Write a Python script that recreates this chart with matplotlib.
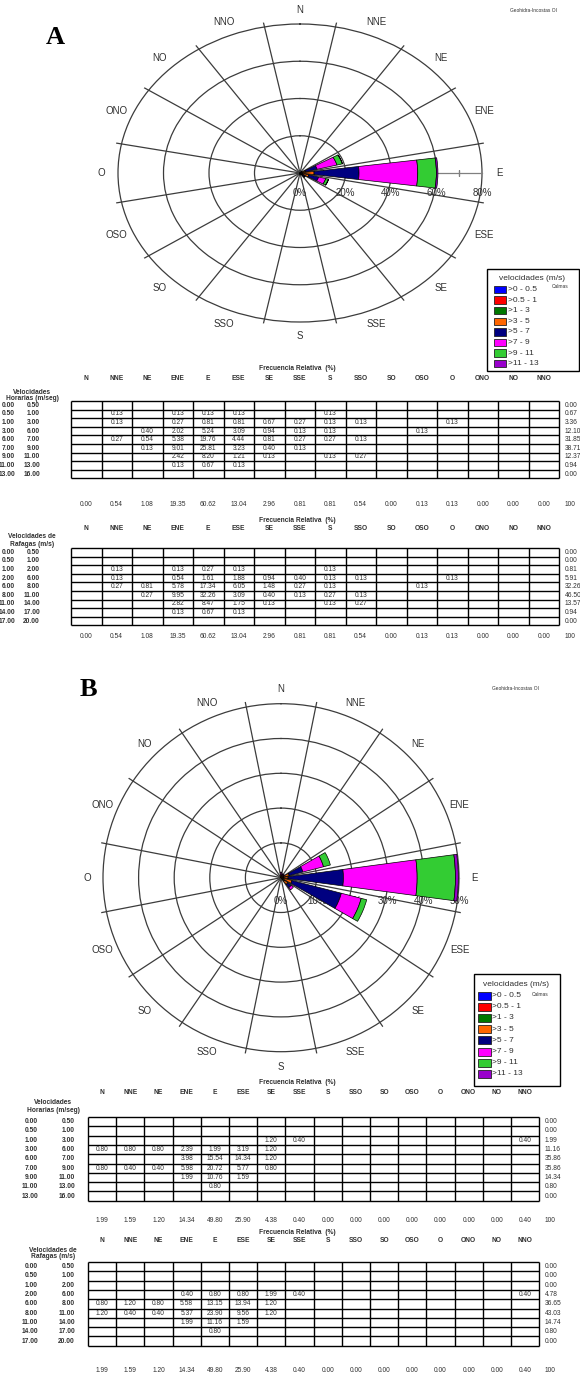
import numpy as np
import matplotlib
matplotlib.use("Agg")
import matplotlib.pyplot as plt
from matplotlib.patches import Rectangle

plt.rcParams["font.family"] = ["Liberation Sans", "DejaVu Sans"]

# ---- data ----
directions = ["N", "NNE", "NE", "ENE", "E", "ESE", "SE", "SSE",
              "S", "SSO", "SO", "OSO", "O", "ONO", "NO", "NNO"]
speed_labels = [">0 - 0.5", ">0.5 - 1", ">1 - 3", ">3 - 5",
                ">5 - 7", ">7 - 9", ">9 - 11", ">11 - 13"]
speed_colors = ["#0000ff", "#ff0000", "#007800", "#ff6600",
                "#000080", "#ff00ff", "#33cc33", "#9900cc"]

bins_horarias = [("0.00", "0.50"), ("0.50", "1.00"), ("1.00", "3.00"), ("3.00", "6.00"),
                 ("6.00", "7.00"), ("7.00", "9.00"), ("9.00", "11.00"), ("11.00", "13.00"),
                 ("13.00", "16.00")]
bins_rafagas = [("0.00", "0.50"), ("0.50", "1.00"), ("1.00", "2.00"), ("2.00", "6.00"),
                ("6.00", "8.00"), ("8.00", "11.00"), ("11.00", "14.00"), ("14.00", "17.00"),
                ("17.00", "20.00")]

# A - hourly speeds, % per direction (0 = empty cell)
a_horarias = [
    [0, 0, 0, 0, 0, 0, 0, 0, 0, 0, 0, 0, 0, 0, 0, 0],
    [0, .13, 0, .13, .13, .13, 0, 0, .13, 0, 0, 0, 0, 0, 0, 0],
    [0, .13, 0, .27, .81, .81, .67, .27, .13, .13, 0, 0, .13, 0, 0, 0],
    [0, 0, .40, 2.02, 5.24, 3.09, .94, .13, .13, 0, 0, .13, 0, 0, 0, 0],
    [0, .27, .54, 5.38, 19.76, 4.44, .81, .27, .27, .13, 0, 0, 0, 0, 0, 0],
    [0, 0, .13, 9.01, 25.81, 3.23, .40, .13, 0, 0, 0, 0, 0, 0, 0, 0],
    [0, 0, 0, 2.42, 8.20, 1.21, .13, 0, .13, .27, 0, 0, 0, 0, 0, 0],
    [0, 0, 0, .13, .67, .13, 0, 0, 0, 0, 0, 0, 0, 0, 0, 0],
    [0, 0, 0, 0, 0, 0, 0, 0, 0, 0, 0, 0, 0, 0, 0, 0],
]
a_horarias_row_tot = [0.00, 0.67, 3.36, 12.10, 31.85, 38.71, 12.37, 0.94, 0.00]

a_rafagas = [
    [0, 0, 0, 0, 0, 0, 0, 0, 0, 0, 0, 0, 0, 0, 0, 0],
    [0, 0, 0, 0, 0, 0, 0, 0, 0, 0, 0, 0, 0, 0, 0, 0],
    [0, .13, 0, .13, .27, .13, 0, 0, .13, 0, 0, 0, 0, 0, 0, 0],
    [0, .13, 0, .54, 1.61, 1.88, .94, .40, .13, .13, 0, 0, .13, 0, 0, 0],
    [0, .27, .81, 5.78, 17.34, 6.05, 1.48, .27, .13, 0, 0, .13, 0, 0, 0, 0],
    [0, 0, .27, 9.95, 32.26, 3.09, .40, .13, .27, .13, 0, 0, 0, 0, 0, 0],
    [0, 0, 0, 2.82, 8.47, 1.75, .13, 0, .13, .27, 0, 0, 0, 0, 0, 0],
    [0, 0, 0, .13, .67, .13, 0, 0, 0, 0, 0, 0, 0, 0, 0, 0],
    [0, 0, 0, 0, 0, 0, 0, 0, 0, 0, 0, 0, 0, 0, 0, 0],
]
a_rafagas_row_tot = [0.00, 0.00, 0.81, 5.91, 32.26, 46.50, 13.57, 0.94, 0.00]
a_dir_tot = [0.00, 0.54, 1.08, 19.35, 60.62, 13.04, 2.96, 0.81,
             0.81, 0.54, 0.00, 0.13, 0.13, 0.00, 0.00, 0.00]

# B
b_horarias = [
    [0, 0, 0, 0, 0, 0, 0, 0, 0, 0, 0, 0, 0, 0, 0, 0],
    [0, 0, 0, 0, 0, 0, 0, 0, 0, 0, 0, 0, 0, 0, 0, 0],
    [0, 0, 0, 0, 0, 0, 1.20, .40, 0, 0, 0, 0, 0, 0, 0, .40],
    [.80, .80, .80, 2.39, 1.99, 3.19, 1.20, 0, 0, 0, 0, 0, 0, 0, 0, 0],
    [0, 0, 0, 3.98, 15.54, 14.34, 1.20, 0, 0, 0, 0, 0, 0, 0, 0, 0],
    [.80, .40, .40, 5.98, 20.72, 5.77, .80, 0, 0, 0, 0, 0, 0, 0, 0, 0],
    [0, 0, 0, 1.99, 10.76, 1.59, 0, 0, 0, 0, 0, 0, 0, 0, 0, 0],
    [0, 0, 0, 0, .80, 0, 0, 0, 0, 0, 0, 0, 0, 0, 0, 0],
    [0, 0, 0, 0, 0, 0, 0, 0, 0, 0, 0, 0, 0, 0, 0, 0],
]
b_horarias_row_tot = [0.00, 0.00, 1.99, 11.16, 35.86, 35.86, 14.34, 0.80, 0.00]

b_rafagas = [
    [0, 0, 0, 0, 0, 0, 0, 0, 0, 0, 0, 0, 0, 0, 0, 0],
    [0, 0, 0, 0, 0, 0, 0, 0, 0, 0, 0, 0, 0, 0, 0, 0],
    [0, 0, 0, 0, 0, 0, 0, 0, 0, 0, 0, 0, 0, 0, 0, 0],
    [0, 0, 0, .40, .80, .80, 1.99, .40, 0, 0, 0, 0, 0, 0, 0, .40],
    [.80, 1.20, .80, 5.58, 13.15, 13.94, 1.20, 0, 0, 0, 0, 0, 0, 0, 0, 0],
    [1.20, .40, .40, 5.37, 23.90, 9.56, 1.20, 0, 0, 0, 0, 0, 0, 0, 0, 0],
    [0, 0, 0, 1.99, 11.16, 1.59, 0, 0, 0, 0, 0, 0, 0, 0, 0, 0],
    [0, 0, 0, 0, .80, 0, 0, 0, 0, 0, 0, 0, 0, 0, 0, 0],
    [0, 0, 0, 0, 0, 0, 0, 0, 0, 0, 0, 0, 0, 0, 0, 0],
]
b_rafagas_row_tot = [0.00, 0.00, 0.00, 4.78, 36.65, 43.03, 14.74, 0.80, 0.00]
b_dir_tot = [1.99, 1.59, 1.20, 14.34, 49.80, 25.90, 4.38, 0.40,
             0.00, 0.00, 0.00, 0.00, 0.00, 0.00, 0.00, 0.40]

# ---- figure ----
W, H = 580, 1383
fig = plt.figure(figsize=(W / 100, H / 100), dpi=100)
page = fig.add_axes([0, 0, 1, 1])
page.set_xlim(0, W)
page.set_ylim(H, 0)
page.axis("off")

TXT = "#303030"


def rect_px(cx, cy, rx, ry):
    return [(cx - rx) / W, 1 - (cy + ry) / H, 2 * rx / W, 2 * ry / H]


def draw_rose(cx, cy, rx, ry, table, rmax, step, lab_r, rlab_dy, ticks):
    ext = 1.03
    ax = fig.add_axes(rect_px(cx, cy, rx * ext, ry * ext), projection="polar")
    ax.set_aspect("auto")
    ax.set_theta_zero_location("N")
    ax.set_theta_direction(-1)
    ax.patch.set_visible(False)
    ax.spines["polar"].set_visible(False)
    ax.set_xticks(np.deg2rad(np.arange(11.25, 360, 22.5)))
    ax.set_xticklabels([])
    ax.set_yticks(np.arange(step, rmax + 0.01, step))
    ax.set_yticklabels([])
    ax.grid(True, color="#3c3c3c", lw=0.9)
    ax.set_ylim(0, rmax * ext)

    # radial axis along E
    ax.plot([np.pi / 2, np.pi / 2], [0, rmax], color="#808080", lw=0.9, zorder=2)
    for t in ticks:
        ax.plot(np.pi / 2, t, marker="|", ms=4, color="#808080", zorder=2)
    for r in np.arange(0, rmax + 0.01, step):
        ax.annotate(f"{r:g}%", xy=(np.pi / 2, r), xytext=(0, -rlab_dy * 0.72),
                    textcoords="offset points", ha="center", va="center",
                    fontsize=7, color=TXT, zorder=2, annotation_clip=False)

    theta = np.deg2rad(np.arange(16) * 22.5)
    bottom = np.zeros(16)
    for vals, col in zip(table[:8], speed_colors):
        v = np.array(vals, dtype=float)
        m = v > 0
        if m.any():
            ax.bar(theta[m], v[m], width=np.deg2rad(15.5), bottom=bottom[m],
                   color=col, edgecolor="black", lw=0.5, zorder=3)
        bottom += v

    for th, name in zip(theta, directions):
        ax.text(th, lab_r, name, ha="center", va="center", fontsize=7,
                color=TXT, clip_on=False)
    return ax


def draw_legend(x0, y0, x1, y1, title_y, first_y, dy, sw_x, sw_w, sw_h, calmas_xy):
    page.add_patch(Rectangle((x0, y0), x1 - x0, y1 - y0, fill=False,
                             edgecolor="black", lw=1.0))
    page.text((x0 + x1) / 2 - 1, title_y, "velocidades (m/s)", ha="center",
              va="center", fontsize=6, color=TXT)
    page.text(calmas_xy[0], calmas_xy[1], "Calmas", ha="center", va="center",
              fontsize=3.5, color=TXT)
    for k, (lab, col) in enumerate(zip(speed_labels, speed_colors)):
        yy = first_y + k * dy
        page.add_patch(Rectangle((sw_x, yy - sw_h / 2), sw_w, sw_h, facecolor=col,
                                 edgecolor="#222222", lw=0.6))
        page.text(sw_x + sw_w + 1.5, yy, lab, ha="left", va="center",
                  fontsize=6, color=TXT)


def draw_table(values, bins, row_tot, dir_tot, vel_title, lay):
    x0, cw, top, rh = lay["x0"], lay["cw"], lay["top"], lay["rh"]
    nr = len(values)
    xs = x0 + cw * np.arange(17)
    ys = top + rh * np.arange(nr + 1)
    page.hlines(ys, xs[0], xs[-1], color="black", lw=1.0)
    page.vlines(xs, ys[0], ys[-1], color="black", lw=1.0)
    fs = 4.8
    page.text(297, lay["freq"], "Frecuencia Relativa  (%)", ha="center", va="center",
              fontsize=fs, fontweight="bold", color=TXT)
    for j, d in enumerate(directions):
        page.text(x0 + cw * (j + 0.5), lay["dirs"], d, ha="center", va="center",
                  fontsize=fs, fontweight="bold", color=TXT)
    page.text(lay["velx"], lay["vel1"], vel_title[0], ha="center", va="center",
              fontsize=fs, fontweight="bold", color=TXT)
    page.text(lay["velx"], lay["vel2"], vel_title[1], ha="center", va="center",
              fontsize=fs, fontweight="bold", color=TXT)
    for i in range(nr):
        yy = top + rh * (i + 0.5)
        page.text(lay["labx"][0], yy, bins[i][0], ha="right", va="center",
                  fontsize=fs, fontweight="bold", color=TXT)
        page.text(lay["labx"][1], yy, bins[i][1], ha="right", va="center",
                  fontsize=fs, fontweight="bold", color=TXT)
        for j, v in enumerate(values[i]):
            if v:
                page.text(x0 + cw * (j + 0.5), yy, f"{v:.2f}", ha="center",
                          va="center", fontsize=fs, color=TXT)
        page.text(lay["totx"], yy, f"{row_tot[i]:.2f}", ha="left", va="center",
                  fontsize=fs, color=TXT)
    for j, t in enumerate(dir_tot):
        page.text(x0 + cw * (j + 0.5), lay["tot"], f"{t:.2f}", ha="center",
                  va="center", fontsize=fs, color=TXT)
    page.text(lay["totx"], lay["tot"], "100", ha="left", va="center",
              fontsize=fs, color=TXT)


# ---- A ----
page.text(55, 37, "A", ha="center", va="center", fontsize=19, fontweight="bold",
          family="Liberation Serif")
page.text(533, 11, "Geohidra-Incostas OI", ha="center", va="center",
          fontsize=3.5, color=TXT)
draw_rose(300, 173, 182, 149, a_horarias, 80, 20, 87.5, 20, [10, 30, 50, 70])
draw_legend(487, 269, 579, 371, 279, 289.5, 10.6, 494, 12, 7.5, (560, 287))

lay_a1 = dict(x0=71, cw=30.5, top=401, rh=8.6, freq=369, dirs=378, vel1=392,
              vel2=399, velx=32, labx=(15, 40), totx=565, tot=504)
draw_table(a_horarias, bins_horarias, a_horarias_row_tot, a_dir_tot,
           ("Velocidades", "Horarias (m/seg)"), lay_a1)
lay_a2 = dict(x0=71, cw=30.5, top=548, rh=8.6, freq=520, dirs=529, vel1=537,
              vel2=544, velx=32, labx=(15, 40), totx=565, tot=637)
draw_table(a_rafagas, bins_rafagas, a_rafagas_row_tot, a_dir_tot,
           ("Velocidades de", "Rafagas (m/s)"), lay_a2)

# ---- B ----
page.text(88, 690, "B", ha="center", va="center", fontsize=19, fontweight="bold",
          family="Liberation Serif")
page.text(515, 688, "Geohidra-Incostas OI", ha="center", va="center",
          fontsize=3.5, color=TXT)
draw_rose(281, 877.7, 178, 174, b_horarias, 50, 10, 54.3, 23, [])
draw_legend(474, 974, 560, 1086, 985, 995.5, 11.2, 478, 13, 8, (540, 994))

lay_b1 = dict(x0=88, cw=28.2, top=1117, rh=9.3, freq=1083, dirs=1092, vel1=1102.5,
              vel2=1110, velx=53, labx=(38, 75), totx=545, tot=1220)
draw_table(b_horarias, bins_horarias, b_horarias_row_tot, b_dir_tot,
           ("Velocidades", "Horarias (m/seg)"), lay_b1)
lay_b2 = dict(x0=88, cw=28.2, top=1262, rh=9.3, freq=1232, dirs=1241, vel1=1250,
              vel2=1257, velx=53, labx=(38, 75), totx=545, tot=1370)
draw_table(b_rafagas, bins_rafagas, b_rafagas_row_tot, b_dir_tot,
           ("Velocidades de", "Rafagas (m/s)"), lay_b2)

fig.savefig("out.png", dpi=100)
